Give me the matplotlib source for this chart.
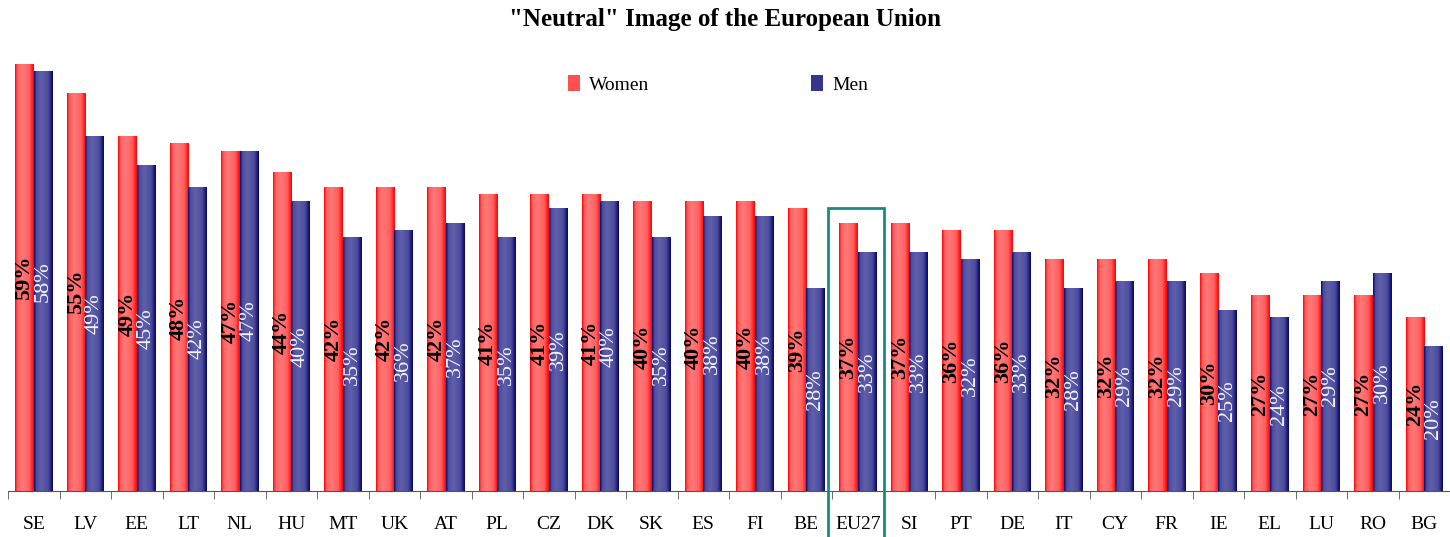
import numpy as np
import matplotlib
matplotlib.use('Agg')
import matplotlib.pyplot as plt
from matplotlib.patches import Rectangle, Patch

plt.rcParams['font.family'] = ['Liberation Serif', 'DejaVu Serif']

countries = ['SE', 'LV', 'EE', 'LT', 'NL', 'HU', 'MT', 'UK', 'AT', 'PL', 'CZ', 'DK', 'SK', 'ES',
             'FI', 'BE', 'EU27', 'SI', 'PT', 'DE', 'IT', 'CY', 'FR', 'IE', 'EL', 'LU', 'RO', 'BG']
women = [59, 55, 49, 48, 47, 44, 42, 42, 42, 41, 41, 41, 40, 40,
         40, 39, 37, 37, 36, 36, 32, 32, 32, 30, 27, 27, 27, 24]
men = [58, 49, 45, 42, 47, 40, 35, 36, 37, 35, 39, 40, 35, 38,
       38, 28, 33, 33, 32, 33, 28, 29, 29, 25, 24, 29, 30, 20]
highlight = 'EU27'


def gradient(edge, light):
    t = np.linspace(0, 1, 64)
    p = np.interp(t, [0, 0.12, 0.38, 0.75, 1], [0, 0.8, 1, 0.8, 0])
    edge = np.array(edge) / 255
    light = np.array(light) / 255
    row = edge[None, :] * (1 - p[:, None]) + light[None, :] * p[:, None]
    return row[None, :, :]


red_grad = gradient((255, 0, 0), (255, 120, 120))
blue_grad = gradient((5, 5, 105), (95, 95, 170))

fig = plt.figure(figsize=(14.5, 5.37), dpi=100)
ax = fig.add_axes([8 / 1450, 46 / 537, 1 - 8 / 1450, 434 / 537])

x = np.arange(len(countries))
w = 0.36
for i in range(len(countries)):
    for xc, val, grad in [(x[i] - 0.18, women[i], red_grad), (x[i] + 0.18, men[i], blue_grad)]:
        ax.imshow(grad, extent=[xc - w / 2, xc + w / 2, 0, val], aspect='auto',
                  interpolation='bilinear', zorder=2)
    ax.text(x[i] - 0.18, women[i] / 2, f'{women[i]}%', rotation=90, ha='center', va='center',
            fontsize=16, fontweight='bold', color='black', zorder=4)
    ax.text(x[i] + 0.18, men[i] / 2, f'{men[i]}%', rotation=90, ha='center', va='center',
            fontsize=16, color='#F4F4FF', zorder=4)

ax.set_xlim(-0.5, len(countries) - 0.5)
ax.set_ylim(0, 60)

for s in ['top', 'right', 'left']:
    ax.spines[s].set_visible(False)
ax.spines['bottom'].set_color('#555555')
ax.set_yticks([])
ax.set_xticks(x)
ax.set_xticklabels(countries, fontsize=14)
ax.tick_params(axis='x', which='major', length=0, pad=18)
ax.set_xticks(np.arange(-0.5, len(countries) - 0.5, 1), minor=True)
ax.tick_params(axis='x', which='minor', length=6, color='#555555', direction='out')

k = countries.index(highlight)
ax.add_patch(Rectangle((k - 0.58, -12), 1.09, 12 + 39.1, fill=False, edgecolor='#168C84',
                       linewidth=2, clip_on=False, zorder=5))

handles = [Patch(facecolor='#FF5050', edgecolor='none'), Patch(facecolor='#35358F', edgecolor='none')]
fig.legend(handles, ['Women', 'Men'], loc='center', bbox_to_anchor=(0.495, 0.843), ncol=2,
           frameon=False, fontsize=14, handlelength=0.65, handleheight=0.85,
           handletextpad=0.45, columnspacing=8.3)

fig.suptitle('"Neutral" Image of the European Union', fontsize=18, fontweight='bold', y=0.985)

fig.savefig('out.png', dpi=100)
